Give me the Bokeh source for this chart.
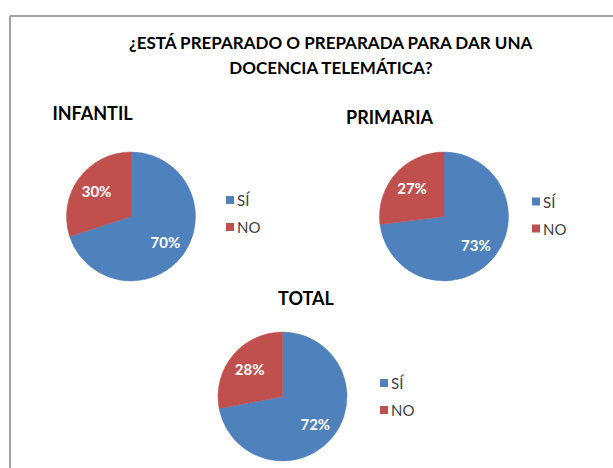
import math
from bokeh.plotting import figure
from bokeh.models import Range1d
from bokeh.embed import file_html
from bokeh.resources import INLINE
from bokeh.core.properties import value

# ---- data ----
title_lines = ["¿ESTÁ PREPARADO O PREPARADA PARA DAR UNA", "DOCENCIA TELEMÁTICA?"]
groups = ["INFANTIL", "PRIMARIA", "TOTAL"]
categories = ["SÍ", "NO"]
si_pct = [70, 73, 72]
no_pct = [30, 27, 28]
colors = ["#4F81BD", "#C0504D"]

# ---- layout (page pixel positions) ----
W, H = 613, 468
FONT = "Lato"
pie_centers = [(130.5, 216), (443.5, 216), (282, 396)]
pie_r = 64.5
group_title_pos = [(92, 112), (389, 116), (305.5, 297)]
legend_pos = [(229.5, 199.5), (535.5, 201), (383.5, 382.5)]
legend_gap = 27


def X(px):
    return px


def Y(py):
    return H - py


p = figure(width=W, height=H, x_range=Range1d(0, W), y_range=Range1d(0, H),
           output_backend="svg", toolbar_location=None, min_border=0)
p.axis.visible = False
p.grid.visible = False
p.outline_line_color = None
p.background_fill_color = "white"
p.border_fill_color = "white"

# chart frame
p.line([X(9.5), X(9.5)], [Y(480), Y(15.5)], line_color="#a3a3a3", line_width=2)
p.line([X(9.5), X(630)], [Y(15.5), Y(15.5)], line_color="#a3a3a3", line_width=2)

# main title
for i, line in enumerate(title_lines):
    p.text(x=[X(331)], y=[Y(42 + 25 * i)], text=[line], text_font=value(FONT),
           text_font_style="bold", text_font_size="17px", text_color="#000000",
           text_align="center", text_baseline="middle")

for g, name in enumerate(groups):
    vals = [si_pct[g], no_pct[g]]
    cx, cy = pie_centers[g]
    start = math.pi / 2
    for k, v in enumerate(vals):
        span = v / 100 * 2 * math.pi
        end = start - span
        p.wedge(x=[X(cx)], y=[Y(cy)], radius=pie_r, start_angle=start, end_angle=end,
                direction="clock", fill_color=colors[k], line_color=colors[k], line_width=0.5)
        mid = start - span / 2
        lx = X(cx) + 0.66 * pie_r * math.cos(mid)
        ly = Y(cy) + 0.66 * pie_r * math.sin(mid)
        p.text(x=[lx], y=[ly], text=[f"{v}%"], text_font=value(FONT), text_font_style="bold",
               text_font_size="15px", text_color="white", text_align="center",
               text_baseline="middle")
        start = end
    # group title
    tx, ty = group_title_pos[g]
    p.text(x=[X(tx)], y=[Y(ty)], text=[name], text_font=value(FONT), text_font_style="bold",
           text_font_size="18px", text_color="#000000", text_align="center",
           text_baseline="middle")
    # legend
    lx0, ly0 = legend_pos[g]
    for k, cat in enumerate(categories):
        yy = ly0 + k * legend_gap
        p.rect(x=[X(lx0)], y=[Y(yy)], width=8, height=8, fill_color=colors[k], line_color=None)
        p.text(x=[X(lx0 + 7)], y=[Y(yy)], text=[cat], text_font=value(FONT),
               text_font_size="15px", text_color="#404040", text_align="left",
               text_baseline="middle")

open("out.html", "w").write(file_html(p, INLINE))
